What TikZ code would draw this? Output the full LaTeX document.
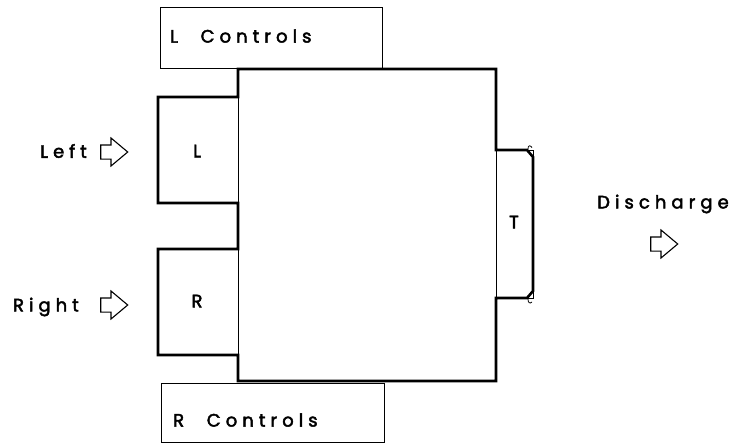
\documentclass[tikz,border=0pt]{standalone}
\usepackage{fontspec}
\setmainfont{Poppins}[LetterSpace=28,FakeBold=2.5]
\usetikzlibrary{shapes.arrows}

\tikzset{
	box/.style={draw,line width=1pt,inner sep=0pt,outer sep=0pt,anchor=north west},
	outline/.style={line width=2.6pt,line join=miter},
	lbl/.style={font=\fontsize{18}{18}\selectfont,inner sep=0pt},
	flow/.style={draw,line width=1.1pt,single arrow,single arrow tip angle=80,single arrow head extend=7pt,inner xsep=0pt,inner ysep=6.5pt,minimum height=27pt,anchor=center}
}

\begin{document}
\begin{tikzpicture}[x=1pt,y=-1pt]
	\useasboundingbox (0,0) rectangle (730,445);
	%boxes
	\node[box,minimum width=222pt,minimum height=61pt] (Lctrl) at (160,7) {};
	\node[box,minimum width=223pt,minimum height=59pt] (Rctrl) at (161,383) {};
	\node[box,minimum width=258pt,minimum height=312pt] (main) at (238,69) {};
	\node[box,minimum width=80pt,minimum height=106pt] (Lbox) at (158,97) {};
	\node[box,minimum width=80pt,minimum height=106pt] (Rbox) at (158,249) {};
	\node[box,minimum width=37pt,minimum height=148pt] (Tbox) at (496,150) {};
	
	%outer contour
	\draw[outline] (Lbox.north east) -- (main.north west) -- (main.north east) -- (Tbox.north west) -- (527,150) -- (533,157) -- (533,291) -- (527,298) -- (Tbox.south west) -- (main.south east) -- (main.south west) -- (238,355) -- (Rbox.south west) -- (Rbox.north west) -- (Rbox.north east) -- (238,203) -- (Lbox.south west) -- (Lbox.north west) -- cycle;
	\draw[line width=0.8pt] (528,149) .. controls (528,145) and (530,145) .. (532,147.5);
	\draw[line width=0.8pt] (528,299) .. controls (528,303) and (530,304) .. (532,302);
	
	%texts
	\node[lbl,anchor=west] (tLctrl) at (170,36) {L\ \ \,Controls};
	\node[lbl,anchor=west] (tRctrl) at (173,420) {R\ \ \,Controls};
	\node[lbl] (tL) at (197,151) {L};
	\node[lbl] (tR) at (197,301) {R};
	\node[lbl] (tT) at (514,222) {T};
	\node[lbl,anchor=east] (tLeft) at (87,151) {Left};
	\node[lbl,anchor=east] (tRight) at (79,307) {Right};
	\node[lbl] (tDis) at (663,204) {Discharge};
	
	%flow arrows
	\node[flow] (aLeft) at (110,152) {};
	\node[flow] (aRight) at (110,305) {};
	\node[flow] (aDis) at (660,244) {};
\end{tikzpicture}
\end{document}
